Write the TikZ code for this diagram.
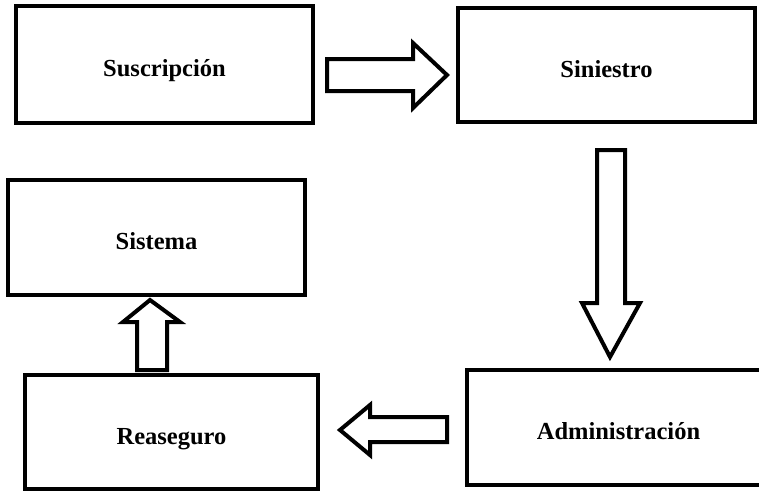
\documentclass[tikz,border=0pt]{standalone}
\usepackage{fontspec}
\setmainfont{Liberation Serif}
\begin{document}
\begin{tikzpicture}[x=1pt,y=-1pt,
  box/.style={draw, line width=4.5pt, inner sep=0pt,
    font=\fontsize{24.5}{28}\selectfont\bfseries,
    text height=28pt, text depth=4pt},
  blockarrow/.style={draw, line width=4pt, fill=white, line join=miter}]
\useasboundingbox (0,0) rectangle (759,491);

% process boxes
\node[box, minimum width=297pt, minimum height=117pt] (sus) at (164.5,64.5) {Suscripción};
\node[box, minimum width=297pt, minimum height=114pt] (sin) at (606.5,65) {Siniestro};
\node[box, minimum width=297pt, minimum height=115pt] (sis) at (156.5,237.5) {Sistema};
\node[box, minimum width=293pt, minimum height=114pt] (rea) at (171.5,432) {Reaseguro};
\node[box, minimum width=303pt, minimum height=115pt] (adm) at (618.5,427.5) {Administración};

% block arrows between the boxes
% Suscripción -> Siniestro
\draw[blockarrow] (327,59) -- (413,59) -- (413,43) -- (447,75) -- (413,108)
  -- (413,91) -- (327,91) -- cycle;
% Siniestro -> Administración
\draw[blockarrow] (597,150) -- (625,150) -- (625,303) -- (640,303) -- (610,357)
  -- (582,303) -- (597,303) -- cycle;
% Administración -> Reaseguro
\draw[blockarrow] (447,417) -- (370,417) -- (370,405) -- (340,430) -- (370,455)
  -- (370,442) -- (447,442) -- cycle;
% Reaseguro -> Sistema
\draw[blockarrow] (137,370) -- (137,322) -- (123,322) -- (150,300) -- (180,322)
  -- (167,322) -- (167,370) -- cycle;
\end{tikzpicture}
\end{document}
